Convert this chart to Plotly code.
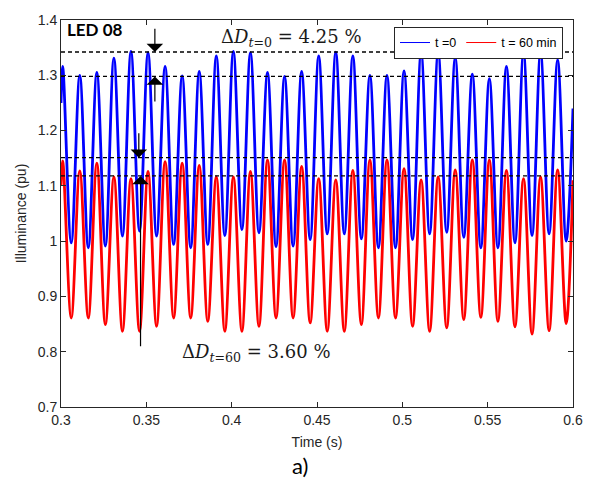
import plotly.graph_objects as go

# ---------------- data ----------------
# time stamps (s): start, then alternating peak / trough of each 100 Hz cycle, end
t_pts = [0.3000,
         0.3010, 0.3060, 0.3110, 0.3160, 0.3210, 0.3260, 0.3310, 0.3360, 0.3410, 0.3460,
         0.3510, 0.3560, 0.3610, 0.3660, 0.3710, 0.3760, 0.3810, 0.3860, 0.3910, 0.3960,
         0.4010, 0.4060, 0.4110, 0.4160, 0.4210, 0.4260, 0.4310, 0.4360, 0.4410, 0.4460,
         0.4510, 0.4560, 0.4610, 0.4660, 0.4710, 0.4760, 0.4810, 0.4860, 0.4910, 0.4960,
         0.5010, 0.5060, 0.5110, 0.5160, 0.5210, 0.5260, 0.5310, 0.5360, 0.5410, 0.5460,
         0.5510, 0.5560, 0.5610, 0.5660, 0.5710, 0.5760, 0.5810, 0.5860, 0.5910, 0.5960,
         0.6000]

# t = 0 (blue): start, (peak, trough) x 30, end
illum_t0 = [1.250,
            1.316, 0.997, 1.300, 0.988, 1.305, 0.991, 1.331, 1.009, 1.343, 1.018,
            1.341, 1.009, 1.316, 0.994, 1.299, 0.988, 1.307, 0.994, 1.335, 1.010,
            1.343, 1.021, 1.341, 1.015, 1.305, 0.990, 1.298, 0.991, 1.307, 1.003,
            1.335, 1.013, 1.342, 1.013, 1.335, 1.004, 1.300, 0.988, 1.300, 0.988,
            1.308, 1.003, 1.341, 1.013, 1.342, 1.016, 1.332, 1.007, 1.302, 0.988,
            1.294, 0.988, 1.316, 0.997, 1.341, 1.010, 1.342, 1.013, 1.328, 1.000,
            1.240]

# t = 60 min (red): start, (peak, trough) x 30, end
illum_t60 = [1.100,
             1.145, 0.861, 1.127, 0.861, 1.141, 0.849, 1.116, 0.837, 1.113, 0.837,
             1.126, 0.846, 1.144, 0.861, 1.141, 0.861, 1.137, 0.855, 1.116, 0.837,
             1.116, 0.837, 1.126, 0.846, 1.147, 0.861, 1.147, 0.861, 1.135, 0.852,
             1.113, 0.837, 1.111, 0.837, 1.128, 0.849, 1.147, 0.861, 1.147, 0.861,
             1.131, 0.846, 1.111, 0.837, 1.116, 0.843, 1.129, 0.858, 1.147, 0.862,
             1.147, 0.855, 1.128, 0.845, 1.113, 0.832, 1.116, 0.838, 1.129, 0.851,
             1.110]

series_names = ["t =0", "t = 60 min"]
series_colors = ["#0000FF", "#FF0000"]

# dashed reference levels (max / min peak of each series)
dash_levels = [1.342, 1.298, 1.151, 1.118]

# arrows: x position, tail level, tip level
arrow_t = [0.3550, 0.3550, 0.3456, 0.3466]
arrow_tail = [1.387, 1.250, 1.198, 0.807]
arrow_tip = [1.342, 1.298, 1.151, 1.118]

x_ticks = [0.3, 0.35, 0.4, 0.45, 0.5, 0.55, 0.6]
x_tick_labels = ["0.3", "0.35", "0.4", "0.45", "0.5", "0.55", "0.6"]
y_ticks = [0.7, 0.8, 0.9, 1.0, 1.1, 1.2, 1.3, 1.4]
y_tick_labels = ["0.7", "0.8", "0.9", "1", "1.1", "1.2", "1.3", "1.4"]

# ---------------- figure ----------------
fig = go.Figure()
for vals, name, col in zip([illum_t0, illum_t60], series_names, series_colors):
    fig.add_trace(go.Scatter(
        x=t_pts, y=vals, mode="lines", name=name, showlegend=False,
        line=dict(color=col, width=2.8, shape="spline", smoothing=1.0),
    ))
# thin legend samples (as in the reference legend)
for name, col in zip(series_names, series_colors):
    fig.add_trace(go.Scatter(
        x=[None], y=[None], mode="lines", name=name,
        line=dict(color=col, width=1),
    ))

for lv in dash_levels:
    fig.add_hline(y=lv, line=dict(color="black", width=1.4, dash="4px,3px"))

for xa, tail, tip in zip(arrow_t, arrow_tail, arrow_tip):
    fig.add_annotation(
        x=xa, y=tip, ax=xa, ay=tail, xref="x", yref="y", axref="x", ayref="y",
        text="", showarrow=True, arrowhead=1, arrowsize=2.3, arrowwidth=1.2,
        arrowcolor="black", standoff=0, startstandoff=0,
    )

L, R, T, B = 61, 24, 14, 73
W, H = 597, 480
pw, ph = W - L - R, H - T - B


def px(xp):
    return (xp - L) / pw


def py(yp):
    return (H - B - yp) / ph


fig.add_annotation(
    x=px(65), y=py(24), xref="paper", yref="paper", xanchor="left", yanchor="middle",
    text="<b>LED 08</b>", showarrow=False,
    font=dict(family="Lato", size=17, color="black"),
)
fig.add_annotation(
    x=px(219), y=py(32), xref="paper", yref="paper", xanchor="left", yanchor="middle",
    text="Δ<i>D</i><sub><i>t</i>=0</sub> = 4.25 %", showarrow=False,
    font=dict(family="DejaVu Serif", size=18, color="#1a1a1a"),
)
fig.add_annotation(
    x=px(180), y=py(352), xref="paper", yref="paper", xanchor="left", yanchor="middle",
    text="Δ<i>D</i><sub><i>t</i>=60</sub> = 3.60 %", showarrow=False,
    font=dict(family="DejaVu Serif", size=18, color="#1a1a1a"),
)
fig.add_annotation(
    x=px(300), y=py(466), xref="paper", yref="paper", xanchor="center", yanchor="middle",
    text="a)", showarrow=False,
    font=dict(family="Lato", size=22, color="black"),
)

axis_common = dict(
    showline=True, linecolor="#262626", linewidth=1, mirror="ticks",
    ticks="inside", ticklen=5, tickcolor="#262626", tickwidth=1,
    showgrid=False, zeroline=False,
    tickfont=dict(family="Liberation Sans", size=14, color="#262626"),
)

fig.update_layout(
    width=W, height=H,
    margin=dict(l=L, r=R, t=T, b=B),
    paper_bgcolor="white", plot_bgcolor="white",
    xaxis=dict(range=[0.3, 0.6], tickvals=x_ticks, ticktext=x_tick_labels,
               title=dict(text="Time (s)", standoff=10,
                          font=dict(family="Liberation Sans", size=14, color="#262626")),
               **axis_common),
    yaxis=dict(range=[0.7, 1.4], tickvals=y_ticks, ticktext=y_tick_labels,
               title=dict(text="Illuminance (pu)", standoff=7,
                          font=dict(family="Liberation Sans", size=14, color="#262626")),
               **axis_common),
    legend=dict(
        orientation="h", x=px(563), y=py(21), xanchor="right", yanchor="top",
        bgcolor="white", bordercolor="#262626", borderwidth=1,
        font=dict(family="Liberation Sans", size=12.5, color="black"),
        itemwidth=30, tracegroupgap=0,
    ),
    showlegend=True,
)

fig.write_html("out.html")
